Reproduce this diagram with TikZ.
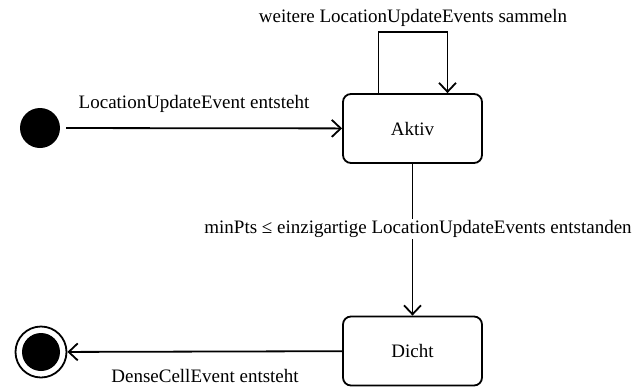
\documentclass[tikz,border=0pt]{standalone}
\usepackage{fontspec}
\setmainfont{Liberation Serif}
\usetikzlibrary{arrows.meta}
\begin{document}
\begin{tikzpicture}[x=1pt,y=-1pt,
		zustand/.style={draw,rounded corners=8pt,minimum width=139pt,minimum height=69pt,line width=1.8pt},
		uebergang/.style={line width=1.8pt,-{Straight Barb[length=9pt,width=17pt,line width=1.8pt]}},
		beschr/.style={font=\fontsize{19}{23}\selectfont,inner sep=1pt}
	]
	\useasboundingbox (0,0) rectangle (644,388);

	% Zustaende
	\node[circle,fill=black,minimum size=40pt,inner sep=0pt] (start) at (40,128) {};
	\node[zustand,beschr] (aktiv) at (412.5,128.5) {Aktiv};
	\node[zustand,beschr] (dicht) at (412.5,351) {Dicht};
	\node[circle,draw,line width=1.8pt,minimum size=51pt,inner sep=0pt] (ende) at (41,352) {};
	\node[circle,fill=black,minimum size=38pt,inner sep=0pt] (endepunkt) at (ende) {};

	% Uebergaenge
	\draw[uebergang,shorten <=6pt] (start) -- (aktiv);
	\draw[uebergang] ([xshift=-34pt]aktiv.north) -- ++(0,-61) -| ([xshift=35pt]aktiv.north);
	\draw[uebergang] (aktiv) -- (dicht);
	\draw[uebergang] (dicht) -- (ende);

	% Beschriftungen
	\node[beschr] (lentsteht) at (194,104) {LocationUpdateEvent entsteht};
	\node[beschr] (lsammeln) at (413,18) {weitere LocationUpdateEvents sammeln};
	\node[beschr,fill=white] (lminpts) at (418,229) {minPts ≤ einzigartige LocationUpdateEvents entstanden};
	\node[beschr] (ldense) at (205,376) {DenseCellEvent entsteht};
\end{tikzpicture}
\end{document}
